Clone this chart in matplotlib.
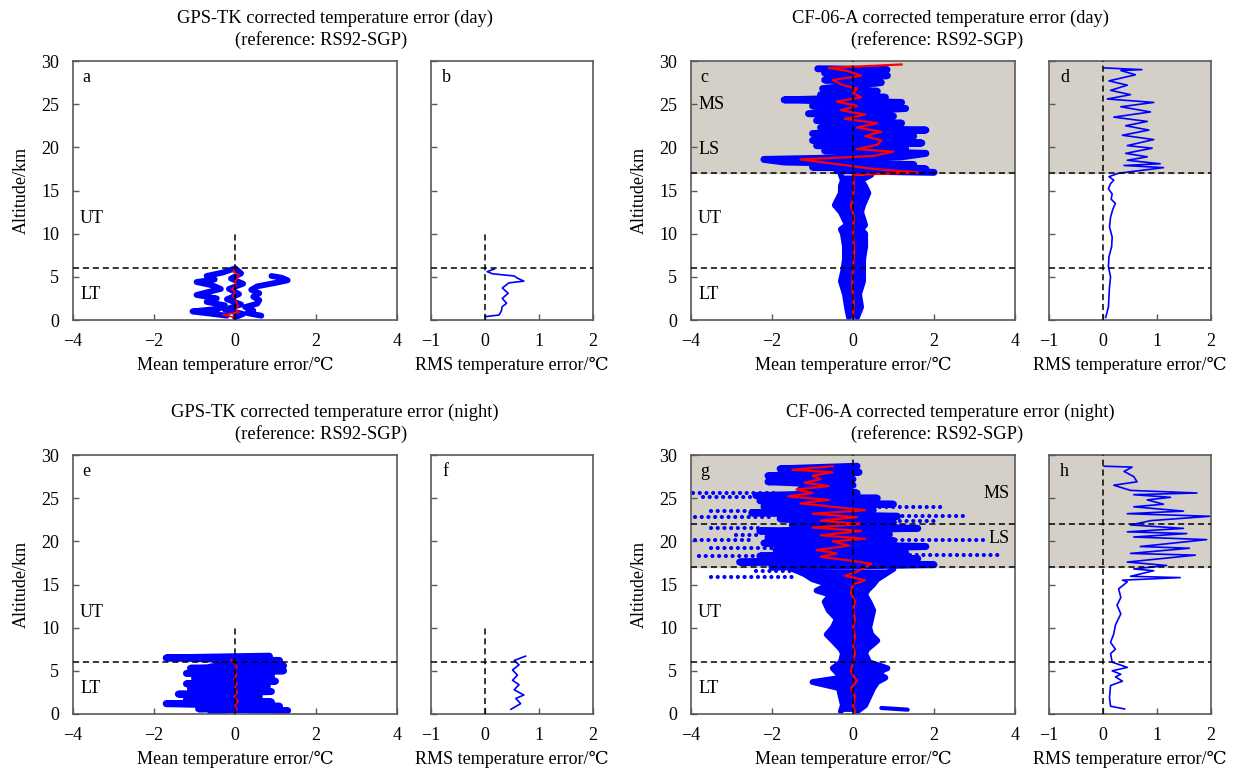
import numpy as np
import matplotlib
matplotlib.use("Agg")
import matplotlib.pyplot as plt

plt.rcParams["font.family"] = ["Liberation Serif", "DejaVu Serif"]
plt.rcParams["font.size"] = 13

# ---------------- data ----------------
# a: GPS-TK day, mean error (blue = single soundings, red = mean)
a_alt_1 = [0.5, 0.9, 1.0, 1.3, 1.7, 2.1, 2.5, 2.9, 3.2, 3.6, 4.0, 4.4, 4.7, 5.1, 5.5, 5.9]
a_err_1 = [-0.2, -0.9, -1.05, -0.4, -0.25, -0.7, -0.45, -0.95, -0.7, -0.35, -0.55, -0.95, -0.5, -0.7, -0.3, -0.05]
a_alt_2 = [0.5, 0.8, 1.1, 1.5, 1.9, 2.3, 2.7, 3.1, 3.5, 3.9, 4.3, 4.6, 4.9, 5.1]
a_err_2 = [0.65, 0.3, 0.45, 0.25, 0.55, 0.6, 0.45, 0.6, 0.4, 0.55, 1.0, 1.3, 1.15, 0.9]
a_alt_3 = [0.3, 0.7, 1.2, 1.8, 2.4, 3.0, 3.6, 4.2, 4.8, 5.4, 6.0]
a_err_3 = [0.0, 0.2, -0.25, 0.15, -0.2, 0.1, -0.15, 0.2, -0.1, 0.15, 0.0]
a_red_alt = [0.3, 0.6, 0.9, 1.2, 1.6, 2.0, 2.4, 2.8, 3.2, 3.6, 4.0, 4.4, 4.8, 5.2, 5.6, 5.9]
a_red_err = [0.0, -0.3, 0.1, 0.0, 0.08, 0.05, 0.0, -0.05, 0.0, -0.08, 0.03, 0.0, 0.05, 0.1, -0.05, 0.0]

# b: GPS-TK day, RMS
b_alt = [0.39, 0.58, 1.0, 1.55, 1.94, 2.5, 3.1, 3.7, 4.3, 4.5, 4.85, 5.1, 5.35, 5.6, 5.9]
b_rms = [0.01, 0.26, 0.30, 0.32, 0.40, 0.32, 0.43, 0.32, 0.44, 0.72, 0.60, 0.54, 0.14, 0.04, 0.17]

# c: CF-06-A day, mean error
c_alt_low = [0.3, 1.5, 3.0, 4.5, 5.5, 7.0, 8.5, 10.0, 10.5, 11.0, 12.5, 13.3, 14.7, 15.5, 16.2, 16.8]
c_left_low = [-0.1, -0.15, -0.2, -0.3, -0.25, -0.2, -0.2, -0.25, -0.3, -0.15, -0.3, -0.45, -0.3, -0.3, -0.25, -0.3]
c_right_low = [0.1, 0.2, 0.15, 0.25, 0.25, 0.25, 0.3, 0.3, 0.2, 0.3, 0.2, 0.25, 0.38, 0.3, 0.2, 0.45]
c_alt_up = [17.1, 17.3, 17.5, 17.7, 18.0, 18.3, 18.6, 18.9, 19.3, 19.6, 19.9, 20.2, 20.5, 20.8, 21.3, 21.6,
            22.0, 22.3, 22.8, 23.1, 23.6, 23.9, 24.5, 24.8, 25.2, 25.5, 25.8, 26.1, 26.5, 26.8, 27.5, 27.8,
            28.3, 28.6, 29.0, 29.1]
c_err_up = [2.0, -0.4, 1.8, -1.0, 1.5, -1.7, -2.2, 1.2, 1.8, -0.7, 1.3, -0.9, 1.7, -1.0, 1.5, -1.0,
            1.8, -0.8, 1.2, -0.9, 1.0, -1.1, 1.3, -1.0, 1.2, -1.7, 0.8, -0.8, 0.6, -0.75, 0.7, -0.7,
            0.85, -0.7, 0.84, -0.87]
c_red_alt = [0.3, 2.0, 4.0, 6.0, 8.0, 10.0, 12.0, 13.3, 14.0, 16.0, 16.8, 17.1, 17.5, 18.0, 18.6, 19.0,
             19.5, 19.8, 20.3, 20.8, 21.3, 21.8, 22.3, 22.8, 23.3, 23.8, 24.3, 24.8, 25.3, 25.8, 26.3,
             26.8, 27.3, 27.8, 28.3, 28.8, 29.2, 29.6]
c_red_err = [0.0, 0.02, -0.02, 0.0, 0.03, 0.0, 0.02, -0.05, 0.0, 0.02, 0.0, 1.6, 0.5, -0.3, -1.3, 0.5,
             1.0, 0.1, 0.6, 0.7, 0.3, 0.7, 0.1, 0.6, -0.2, 0.3, -0.3, 0.1, -0.4, 0.2, 0.0,
             0.1, -0.3, -0.5, 0.2, -0.1, -0.6, 1.2]

# d: CF-06-A day, RMS
d_alt = [0.3, 1.5, 2.6, 3.8, 5.0, 6.2, 7.3, 8.5, 9.6, 10.8, 11.9, 12.8, 13.5, 14.0, 14.6, 15.2, 15.8, 16.2, 16.6,
         17.0, 17.65, 17.9, 18.1, 18.5, 18.9, 19.3, 19.9, 20.2, 20.9, 21.4, 22.0, 22.5, 23.0, 23.5, 24.1,
         24.7, 25.2, 25.6, 26.1, 26.6, 27.2, 27.7, 28.4, 28.9, 29.0, 29.2]
d_rms = [0.05, 0.1, 0.11, 0.12, 0.14, 0.1, 0.11, 0.16, 0.17, 0.12, 0.14, 0.18, 0.23, 0.15, 0.17, 0.1, 0.14, 0.2, 0.11,
         0.29, 1.12, 0.39, 1.06, 0.45, 0.82, 0.42, 0.91, 0.45, 0.94, 0.36, 0.85, 0.42, 0.82, 0.2, 0.88,
         0.33, 0.94, 0.08, 0.51, 0.14, 0.45, 0.11, 0.6, 0.33, 0.72, 0.02]

# e: GPS-TK night, mean error
e_alt_1 = [0.4, 0.6, 0.9, 1.2, 1.4, 1.7, 2.0, 2.3, 2.6, 2.9, 3.2, 3.5, 3.8, 4.1, 4.4, 4.7, 5.0, 5.3, 5.6,
           5.9, 6.2, 6.5, 6.7]
e_err_1 = [1.3, -0.9, 1.1, -1.7, 0.9, -1.2, 0.6, -1.4, 0.9, -1.1, 0.8, -1.2, 1.0, -1.0, 0.9, -1.2, 1.2, -1.1, 1.2,
           -0.4, 1.1, -1.7, 0.85]
e_alt_2 = [0.3, 0.75, 1.1, 1.55, 1.85, 2.45, 2.75, 3.35, 3.65, 4.25, 4.55, 5.15, 5.45, 6.05, 6.4]
e_err_2 = [-0.6, 0.7, -0.8, 0.5, -0.5, 0.6, -0.7, 0.4, -0.6, 0.7, -0.4, 0.8, -0.6, 0.5, -0.3]
e_red_alt = [0.5, 1.0, 1.5, 2.0, 2.5, 3.0, 3.5, 4.0, 4.5, 5.0, 5.5, 6.0, 6.3]
e_red_err = [0.05, 0.0, 0.08, -0.02, 0.06, 0.0, 0.05, -0.03, 0.04, 0.0, 0.05, -0.05, -0.1]

# f: GPS-TK night, RMS
f_alt = [0.54, 1.2, 1.8, 2.2, 2.8, 3.4, 3.9, 4.5, 5.1, 5.7, 6.2, 6.7]
f_rms = [0.48, 0.66, 0.57, 0.72, 0.54, 0.63, 0.51, 0.6, 0.51, 0.63, 0.54, 0.75]

# g: CF-06-A night, mean error
g_alt_low = [0.3, 1.0, 2.0, 3.0, 3.7, 4.2, 4.8, 5.3, 6.0, 7.0, 7.5, 8.5, 9.2, 10.0, 11.0, 12.0, 13.0, 13.8,
             14.3, 15.0, 15.6, 16.2, 16.8]
g_left_low = [-0.3, -0.25, -0.3, -0.35, -1.0, -0.3, -0.4, -0.5, -0.3, -0.25, -0.3, -0.5, -0.65, -0.5, -0.4,
              -0.6, -0.7, -0.55, -0.9, -0.6, -1.0, -1.2, -1.5]
g_right_low = [0.1, 0.3, 0.4, 0.5, 0.6, 0.8, 0.6, 0.85, 0.4, 0.3, 0.35, 0.6, 0.45, 0.4, 0.45, 0.5, 0.4, 0.3,
               0.35, 0.5, 0.6, 0.8, 1.0]
g_alt_up = [17.0, 17.3, 17.6, 18.0, 18.3, 18.7, 19.0, 19.4, 19.8, 20.1, 20.5, 20.8, 21.2, 21.5, 21.9, 22.2,
            22.6, 22.9, 23.3, 23.6, 24.0, 24.3, 24.7, 25.0, 25.3, 25.6, 26.0, 26.5, 26.9, 27.2, 27.6, 28.0,
            28.4, 28.7]
g_err_up = [-2.0, 2.0, -2.8, 1.6, -2.3, 1.3, -1.9, 1.8, -2.2, 1.0, -2.1, 0.9, -2.3, 1.6, -1.5, 1.0,
            -1.8, 1.1, -2.5, 0.5, -2.2, 1.0, -2.3, 0.6, -2.4, 0.1, -1.3, 0.0, -2.1, 0.0, -2.1, 0.15,
            -1.8, 0.1]
g_streak_alt = [0.7, 0.5]
g_streak_err = [0.7, 1.35]
# sparse dotted rows (altitude, left end, right end)
g_dot_alt = [25.6, 25.1, 24.0, 23.5, 22.9, 22.8, 22.3, 21.5, 21.5, 20.7, 20.2, 20.1, 19.4, 19.2, 18.4,
             18.3, 17.4, 16.6, 15.9]
g_dot_x0 = [-3.95, -3.7, 0.5, -3.5, 0.9, -3.9, 0.5, -3.5, 0.8, -2.9, 0.9, -3.9, 1.0, -3.5, 1.4,
            -3.8, 1.0, -2.4, -3.5]
g_dot_x1 = [-1.95, -2.3, 2.2, -2.0, 2.8, -2.0, 2.0, -2.2, 1.6, -2.3, 3.2, -2.5, 1.8, -1.5, 3.6,
            -2.0, 2.0, -1.0, -1.5]
g_red_alt = [0.3, 1.0, 2.0, 3.0, 3.8, 4.5, 5.0, 6.0, 7.0, 8.0, 9.0, 10.0, 11.0, 12.0, 13.0, 14.0, 15.0,
             15.5, 16.0, 16.5, 17.0, 17.4, 17.8, 18.2, 18.6, 19.0, 19.5, 20.0, 20.3, 20.7, 21.2, 21.6,
             22.0, 22.4, 22.8, 23.2, 23.6, 24.0, 24.4, 24.8, 25.2, 25.6, 26.0, 26.4, 26.8, 27.2, 27.6,
             28.0, 28.3, 28.7]
g_red_err = [0.05, 0.0, 0.05, -0.05, 0.1, 0.0, -0.05, 0.0, 0.05, 0.0, 0.05, 0.0, 0.05, 0.0, 0.05, -0.05, 0.0,
             0.3, -0.2, 0.1, 0.3, 0.45, -0.1, -0.8, -0.4, -0.9, -0.1, -0.5, 0.3, -0.8, 0.2, -1.0,
             0.2, -0.8, 0.1, -1.0, 0.3, -0.5, -1.3, -0.6, -1.6, -1.0, -1.4, -0.6, -1.2, -0.8, -1.0,
             -0.5, -1.5, -0.5]

# h: CF-06-A night, RMS
h_alt = [0.58, 0.9, 1.9, 3.3, 3.8, 4.3, 4.6, 5.0, 5.4, 6.0, 7.0, 7.5, 8.3, 9.3, 10.3, 11.6, 12.6, 13.5,
         14.5, 15.3, 15.5, 15.8, 15.95, 16.6, 16.8, 17.2, 17.6, 18.4, 18.6, 19.2, 19.4, 20.2, 20.5, 20.9,
         21.1, 21.5, 21.9, 22.4, 22.9, 23.2, 23.5, 24.0, 24.3, 24.8, 25.1, 25.4, 25.6, 25.9, 26.5, 26.9,
         27.5, 28.1, 28.6, 28.7]
h_rms = [0.4, 0.14, 0.12, 0.14, 0.36, 0.23, 0.33, 0.17, 0.45, 0.17, 0.14, 0.23, 0.14, 0.2, 0.23, 0.33, 0.26, 0.33,
         0.29, 0.45, 0.36, 1.43, 0.51, 0.94, 0.57, 1.18, 0.45, 1.71, 0.51, 1.6, 0.69, 1.92, 0.57, 1.55,
         0.45, 1.49, 0.51, 0.89, 1.98, 0.45, 1.49, 0.57, 1.12, 0.82, 1.25, 0.57, 1.74, 0.51, 0.2, 0.63,
         0.57, 0.39, 0.54, 0.02]

mean_ticks = [-4, -2, 0, 2, 4]
rms_ticks = [-1, 0, 1, 2]
alt_ticks = [0, 5, 10, 15, 20, 25, 30]

BLUE = "#0000ff"
RED = "#ff0000"
SHADE = "#d4d0c8"
SPINE = "#595959"
FS = 13

W, H = 1233, 778
fig = plt.figure(figsize=(W / 100, H / 100), dpi=100)


def add_ax(x0, y0, x1, y1):
    return fig.add_axes([x0 / W, 1 - y1 / H, (x1 - x0) / W, (y1 - y0) / H])


def style(ax, xlim, xticks, ylabels):
    ax.set_xlim(xlim)
    ax.set_ylim(0, 30)
    ax.set_xticks(xticks)
    ax.set_yticks(alt_ticks)
    ax.tick_params(direction="in", length=4, width=1, color=SPINE, labelsize=FS)
    ax.tick_params(axis="x", pad=9)
    ax.tick_params(axis="y", pad=10)
    if not ylabels:
        ax.set_yticklabels([])
    for s in ax.spines.values():
        s.set_color(SPINE)
        s.set_linewidth(1.2)


def blue_line(ax, x, y, lw=4.2):
    ax.plot(x, y, color=BLUE, lw=lw, solid_capstyle="round", solid_joinstyle="round", zorder=2)


top = (61, 320)
bot = (455, 714)

panels = {}
for row, (y0, y1) in zip(["top", "bot"], [top, bot]):
    panels[row] = (
        add_ax(73, y0, 397, y1),
        add_ax(431, y0, 593, y1),
        add_ax(691, y0, 1015, y1),
        add_ax(1049, y0, 1211, y1),
    )

ax_a, ax_b, ax_c, ax_d = panels["top"]
ax_e, ax_f, ax_g, ax_h = panels["bot"]

# ---- a ----
blue_line(ax_a, a_err_1, a_alt_1)
blue_line(ax_a, a_err_2, a_alt_2)
blue_line(ax_a, a_err_3, a_alt_3)
ax_a.plot(a_red_err, a_red_alt, color=RED, lw=1.2, zorder=3)
# ---- b ----
ax_b.plot(b_rms, b_alt, color=BLUE, lw=1.2)
# ---- c ----
ax_c.axhspan(17, 30, color=SHADE, zorder=0)
ax_c.fill_betweenx(c_alt_low, c_left_low, c_right_low, color=BLUE, lw=0, zorder=2)
blue_line(ax_c, c_left_low, c_alt_low)
blue_line(ax_c, c_right_low, c_alt_low)
blue_line(ax_c, c_err_up, c_alt_up, lw=5)
ax_c.plot(c_red_err, c_red_alt, color=RED, lw=1.6, zorder=3)
# ---- d ----
ax_d.axhspan(17, 30, color=SHADE, zorder=0)
ax_d.plot(d_rms, d_alt, color=BLUE, lw=1.2)
# ---- e ----
blue_line(ax_e, e_err_1, e_alt_1, lw=5)
blue_line(ax_e, e_err_2, e_alt_2, lw=5)
ax_e.plot(e_red_err, e_red_alt, color=RED, lw=1.2, zorder=3)
# ---- f ----
ax_f.plot(f_rms, f_alt, color=BLUE, lw=1.2)
# ---- g ----
ax_g.axhspan(17, 30, color=SHADE, zorder=0)
ax_g.fill_betweenx(g_alt_low, g_left_low, g_right_low, color=BLUE, lw=0, zorder=2)
blue_line(ax_g, g_left_low, g_alt_low)
blue_line(ax_g, g_right_low, g_alt_low)
blue_line(ax_g, g_err_up, g_alt_up, lw=5)
blue_line(ax_g, g_streak_err, g_streak_alt, lw=3)
for alt, x0, x1 in zip(g_dot_alt, g_dot_x0, g_dot_x1):
    ax_g.plot([x0, x1], [alt, alt], color=BLUE, lw=3, ls=(0, (0.01, 1.6)),
              dash_capstyle="round", zorder=2)
ax_g.plot(g_red_err, g_red_alt, color=RED, lw=1.6, zorder=3)
# ---- h ----
ax_h.axhspan(17, 30, color=SHADE, zorder=0)
ax_h.plot(h_rms, h_alt, color=BLUE, lw=1.2)

# reference dashed lines
dash = dict(color="black", ls=(0, (4, 2.5)), lw=1.1, zorder=4)
for ax in (ax_a, ax_b, ax_e, ax_f):
    ax.axhline(6, **dash)
    ax.plot([0, 0], [0, 10], **dash)
for ax in (ax_c, ax_d):
    ax.axhline(17, **dash)
    ax.axhline(6, **dash)
    ax.plot([0, 0], [0, 30], **dash)
for ax in (ax_g, ax_h):
    ax.axhline(22, **dash)
    ax.axhline(17, **dash)
    ax.axhline(6, **dash)
    ax.plot([0, 0], [0, 30], **dash)

for ax in (ax_a, ax_c, ax_e, ax_g):
    style(ax, (-4, 4), mean_ticks, True)
    ax.set_ylabel("Altitude/km", fontsize=FS, labelpad=8)
    ax.set_xlabel("Mean temperature error/\u2103", fontsize=FS, labelpad=5)
    ax.text(0.022, 11.8, "UT", transform=ax.get_yaxis_transform(), va="center", fontsize=FS)
    ax.text(0.022, 2.9, "LT", transform=ax.get_yaxis_transform(), va="center", fontsize=FS)
for ax in (ax_b, ax_d, ax_f, ax_h):
    style(ax, (-1, 2), rms_ticks, False)
    ax.set_xlabel("RMS temperature error/\u2103", fontsize=FS, labelpad=5)

ax_c.text(0.022, 25.0, "MS", transform=ax_c.get_yaxis_transform(), va="center", fontsize=FS)
ax_c.text(0.022, 19.7, "LS", transform=ax_c.get_yaxis_transform(), va="center", fontsize=FS)
ax_g.text(0.985, 25.5, "MS", transform=ax_g.get_yaxis_transform(), va="center", ha="right", fontsize=FS)
ax_g.text(0.985, 20.3, "LS", transform=ax_g.get_yaxis_transform(), va="center", ha="right", fontsize=FS)

for ax, lab, xf in zip((ax_a, ax_b, ax_c, ax_d, ax_e, ax_f, ax_g, ax_h), "abcdefgh",
                       (0.03, 0.07, 0.03, 0.07, 0.03, 0.07, 0.03, 0.07)):
    ax.text(xf, 0.935, lab, transform=ax.transAxes, va="center", fontsize=FS)

titles = [
    ("GPS-TK corrected temperature error (day)", 335, 321, 18),
    ("CF-06-A corrected temperature error (day)", 950, 937, 18),
    ("GPS-TK corrected temperature error (night)", 335, 321, 412),
    ("CF-06-A corrected temperature error (night)", 950, 937, 412),
]
for txt, xc1, xc2, yc in titles:
    fig.text(xc1 / W, 1 - yc / H, txt, ha="center", va="center", fontsize=FS + 0.3)
    fig.text(xc2 / W, 1 - (yc + 22) / H, "(reference: RS92-SGP)", ha="center", va="center", fontsize=FS + 0.3)

fig.savefig("out.png", dpi=100)
